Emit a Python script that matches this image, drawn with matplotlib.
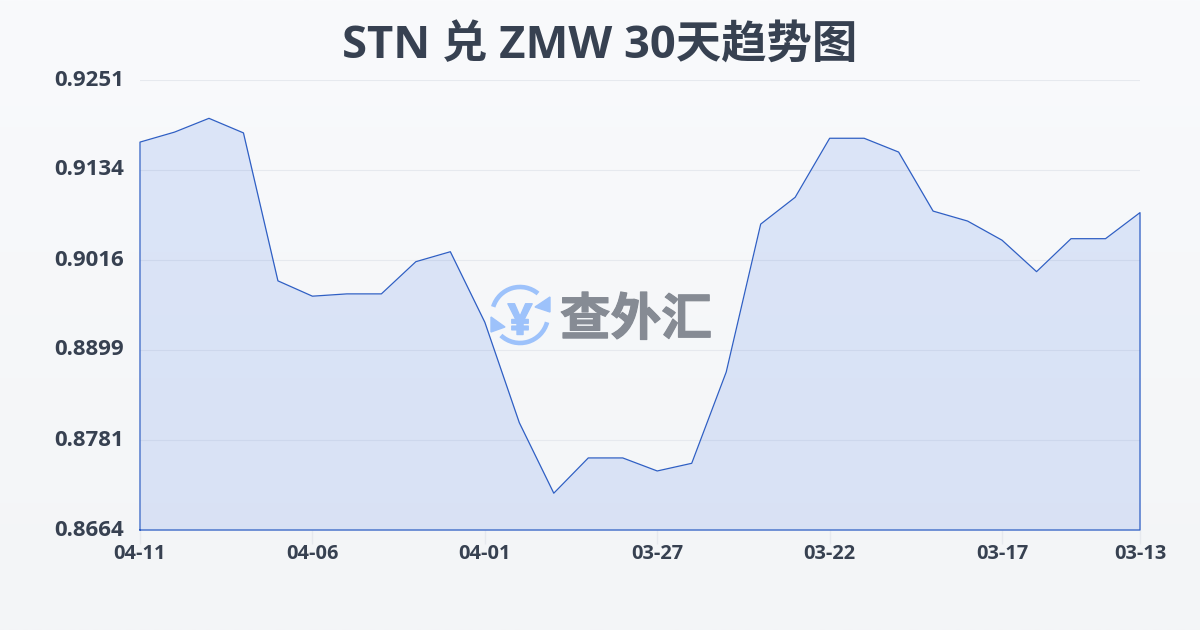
import numpy as np
from matplotlib import pyplot as plt
from matplotlib import patheffects
from matplotlib.colors import LinearSegmentedColormap
from matplotlib.patches import Arc, Polygon

plt.rcParams['font.family'] = ['Open Sans', 'Noto Sans CJK SC', 'DejaVu Sans']

# values, newest first
dates = ['04-11', '04-10', '04-09', '04-08', '04-07', '04-06', '04-05', '04-04', '04-03', '04-02',
         '04-01', '03-31', '03-30', '03-29', '03-28', '03-27', '03-26', '03-25', '03-24', '03-23',
         '03-22', '03-21', '03-20', '03-19', '03-18', '03-17', '03-16', '03-15', '03-14', '03-13']
rates = [0.9170, 0.9183, 0.9201, 0.9182, 0.8989, 0.8969, 0.8972, 0.8972, 0.9014, 0.9027,
         0.8935, 0.8804, 0.8712, 0.8758, 0.8758, 0.8741, 0.8751, 0.8870, 0.9063, 0.9098,
         0.9175, 0.9175, 0.9157, 0.9080, 0.9067, 0.9042, 0.9001, 0.9044, 0.9044, 0.9078]
xtick_idx = [0, 5, 10, 15, 20, 25, 29]
yticks = [0.8664, 0.8781, 0.8899, 0.9016, 0.9134, 0.9251]
title = 'STN 兑 ZMW 30天趋势图'
W, H = 1200, 630
dark = '#374151'

fig = plt.figure(figsize=(W/100, H/100), dpi=100)

# page background, light vertical gradient
bg = fig.add_axes([0, 0, 1, 1], zorder=0)
bg.imshow(np.linspace(0, 1, 256).reshape(-1, 1), aspect='auto', vmin=0, vmax=1,
          cmap=LinearSegmentedColormap.from_list('bg', ['#f9fafc', '#f3f5f7']))
bg.axis('off')

ax = fig.add_axes([140/W, 1-530/H, 1000/W, 450/H], zorder=1)
ax.patch.set_alpha(0)
x = np.arange(len(rates))
ax.set_xlim(0, len(rates)-1)
ax.set_ylim(yticks[0], yticks[-1])
ax.grid(axis='y', color='#e6e9ee', lw=0.8, zorder=1)
ax.fill_between(x, rates, yticks[0], color='#3f74e6', alpha=0.15, lw=0, zorder=2)
# line goes down both sides and along the bottom as well
ax.plot(np.r_[x[0], x, x[-1], x[0]], np.r_[yticks[0], rates, yticks[0], yticks[0]],
        color='#2f5fc4', lw=0.9, zorder=3, clip_on=False)
for s in ax.spines.values():
    s.set_visible(False)
ax.set_yticks(yticks)
ax.set_yticklabels(['%.4f' % v for v in yticks], fontsize=16, fontweight='bold', color=dark)
ax.tick_params(axis='y', length=0, pad=11.5)
for lab in ax.get_yticklabels():
    lab.set_verticalalignment('center')
ax.set_xticks(xtick_idx)
ax.set_xticklabels([dates[i] for i in xtick_idx], fontsize=14.4, fontweight='bold', color=dark)
ax.tick_params(axis='x', length=10, width=1, color='#e6e9ee', pad=0)

fig.text(0.5, 1-47/H, title, ha='center', va='center', fontsize=32.7, fontweight='bold', color=dark)

# watermark, pixel coordinates
wm = fig.add_axes([0, 0, 1, 1], zorder=3)
wm.set_xlim(0, W)
wm.set_ylim(H, 0)
wm.axis('off')
blue = '#9dc2fb'
grey = '#868b94'
wm.add_patch(Arc((520, 315), 56, 56, theta1=197, theta2=310, color=blue, lw=3.3))
wm.add_patch(Arc((520, 315), 56, 56, theta1=15, theta2=133, color=blue, lw=3.3))
wm.add_patch(Polygon([[550, 297], [550, 312], [535, 307]], color=blue))
wm.add_patch(Polygon([[491, 317], [491, 332], [505, 327]], color=blue))
wm.text(520, 323, '¥', ha='center', va='center', fontsize=31, fontweight='bold', color=blue,
        path_effects=[patheffects.withStroke(linewidth=1, foreground=blue)])
wm.text(636, 322, '查外汇', ha='center', va='center', fontsize=36.5, fontweight='bold', color=grey,
        path_effects=[patheffects.withStroke(linewidth=0.8, foreground=grey)])

fig.savefig('out.png', dpi=100)
